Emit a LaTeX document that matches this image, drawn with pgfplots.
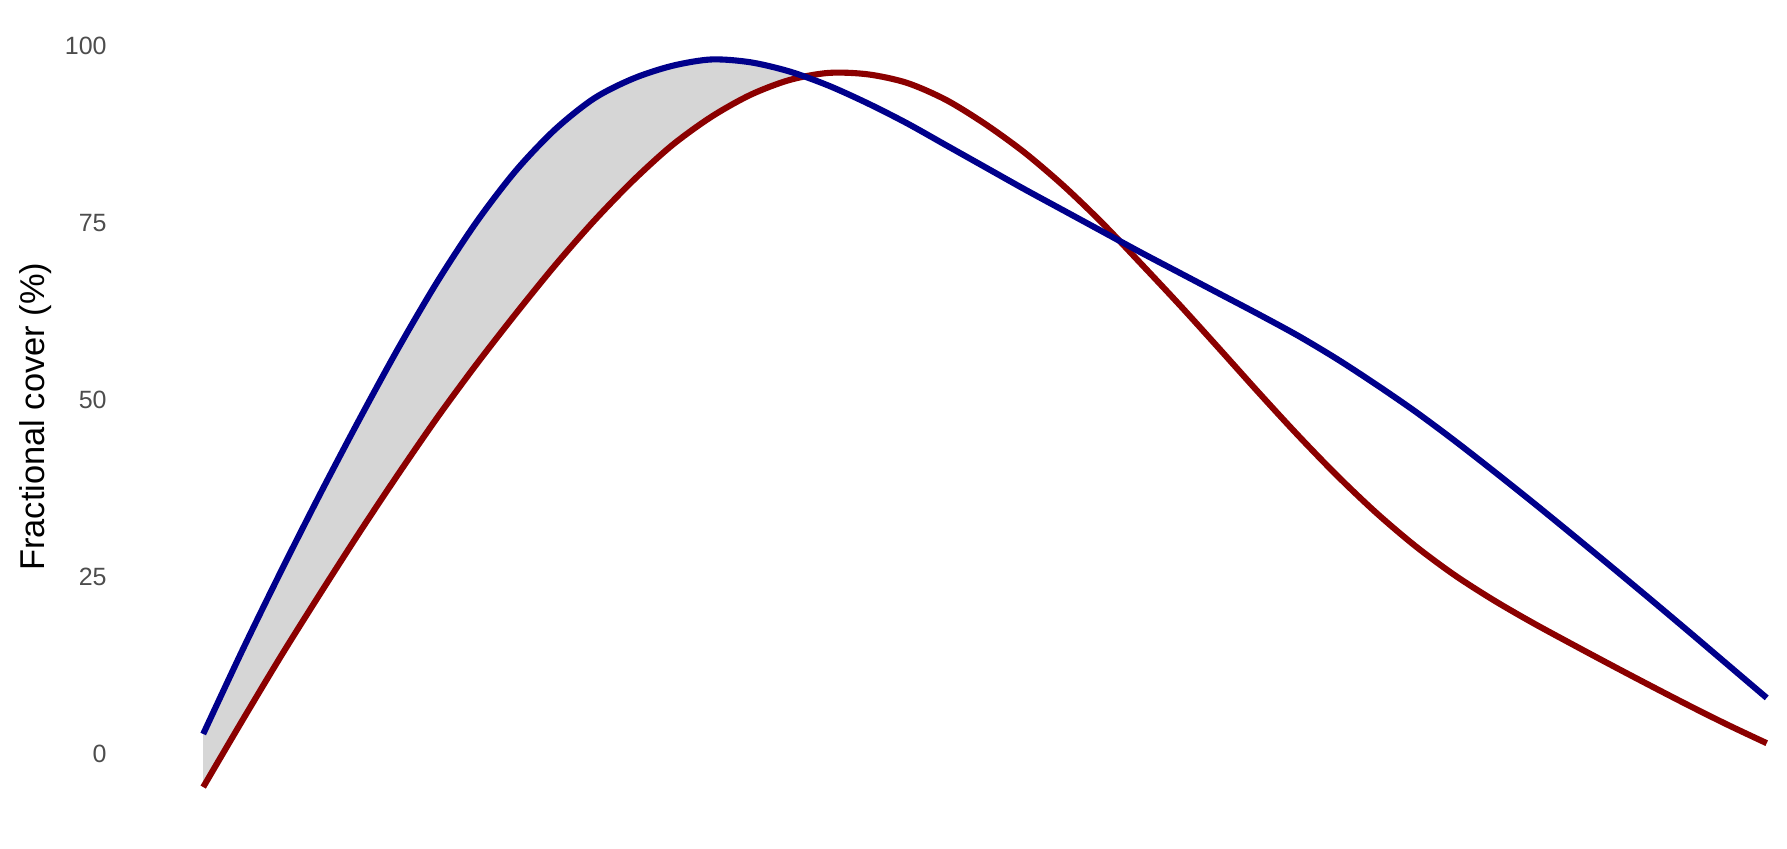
\documentclass[border=0pt]{standalone}
\usepackage{fontspec}
\setmainfont{Liberation Sans}
\usepackage{pgfplots}
\pgfplotsset{compat=1.18}
\usepgfplotslibrary{fillbetween}

\definecolor{bluecurve}{HTML}{00008B}
\definecolor{redcurve}{HTML}{8B0000}
\definecolor{bandgray}{HTML}{D6D6D6}
\definecolor{ticktext}{HTML}{4D4D4D}

% fractional cover, two fitted curves (even spacing keeps "smooth" free of kinks)
\pgfplotstableread{
x y
0 2.8
2.5 14.6
5 25.9
7.5 36.8
10 47.3
12.5 57.4
15 66.8
17.5 75.2
20 82.4
22.5 88.2
25 92.6
27.5 95.4
30 97.2
32.5 98.1
35 97.7
37.5 96.4
40 94.4
42.5 91.9
45 89.1
47.5 86.0
50 82.9
52.5 79.8
55 76.8
57.5 73.8
60 70.8
62.5 67.9
65 65.0
67.5 62.1
70 59.1
72.5 55.8
75 52.2
77.5 48.4
80 44.3
82.5 40.0
85 35.6
87.5 31.1
90 26.55
92.5 21.95
95 17.3
97.5 12.6
100 7.9
}\bluedata

\pgfplotstableread{
x y
0 -4.7
2.5 4.7
5 13.9
7.5 22.7
10 31.3
12.5 39.6
15 47.6
17.5 55.1
20 62.2
22.5 69.0
25 75.3
27.5 81.0
30 86.0
32.5 90.0
35 93.1
37.5 95.2
40 96.2
42.5 96.0
45 94.8
47.5 92.4
50 89.0
52.5 85.0
55 80.3
57.5 75.0
60 69.2
62.5 63.3
65 57.2
67.5 51.05
70 45.05
72.5 39.35
75 34.1
77.5 29.4
80 25.3
82.5 21.75
85 18.55
87.5 15.55
90 12.6
92.5 9.7
95 6.85
97.5 4.1
100 1.5
}\reddata

\begin{document}
\begin{tikzpicture}
\begin{axis}[
    scale only axis,
    width=643.3pt, height=305.6pt,
    xmin=-12.98, xmax=101.28,
    ymin=-13.4, ymax=106.5,
    axis line style={draw=none},
    major tick length=0pt,
    xtick=\empty,
    ytick={0,25,50,75,100},
    /pgf/number format/assume math mode=true,
    yticklabel style={anchor=east, inner sep=0pt, xshift=38.5pt,
        font=\fontsize{9}{11}\selectfont, text=ticktext},
    ylabel={Fractional cover (\%)},
    every axis y label/.style={at={(axis description cs:0.0199,0.509)},
        rotate=90, anchor=center, font=\fontsize{12.4}{15}\selectfont},
    clip=false,
]
\addplot[name path=blue, draw=none, smooth] table {\bluedata};
\addplot[name path=red, draw=none, smooth] table {\reddata};
\addplot[draw=none, fill=none] fill between[of=blue and red, split,
    every segment no 0/.style={fill=bandgray}];
\addplot[redcurve, line width=2.2pt, smooth] table {\reddata};
\addplot[bluecurve, line width=2.2pt, smooth] table {\bluedata};
\end{axis}
\end{tikzpicture}
\end{document}
